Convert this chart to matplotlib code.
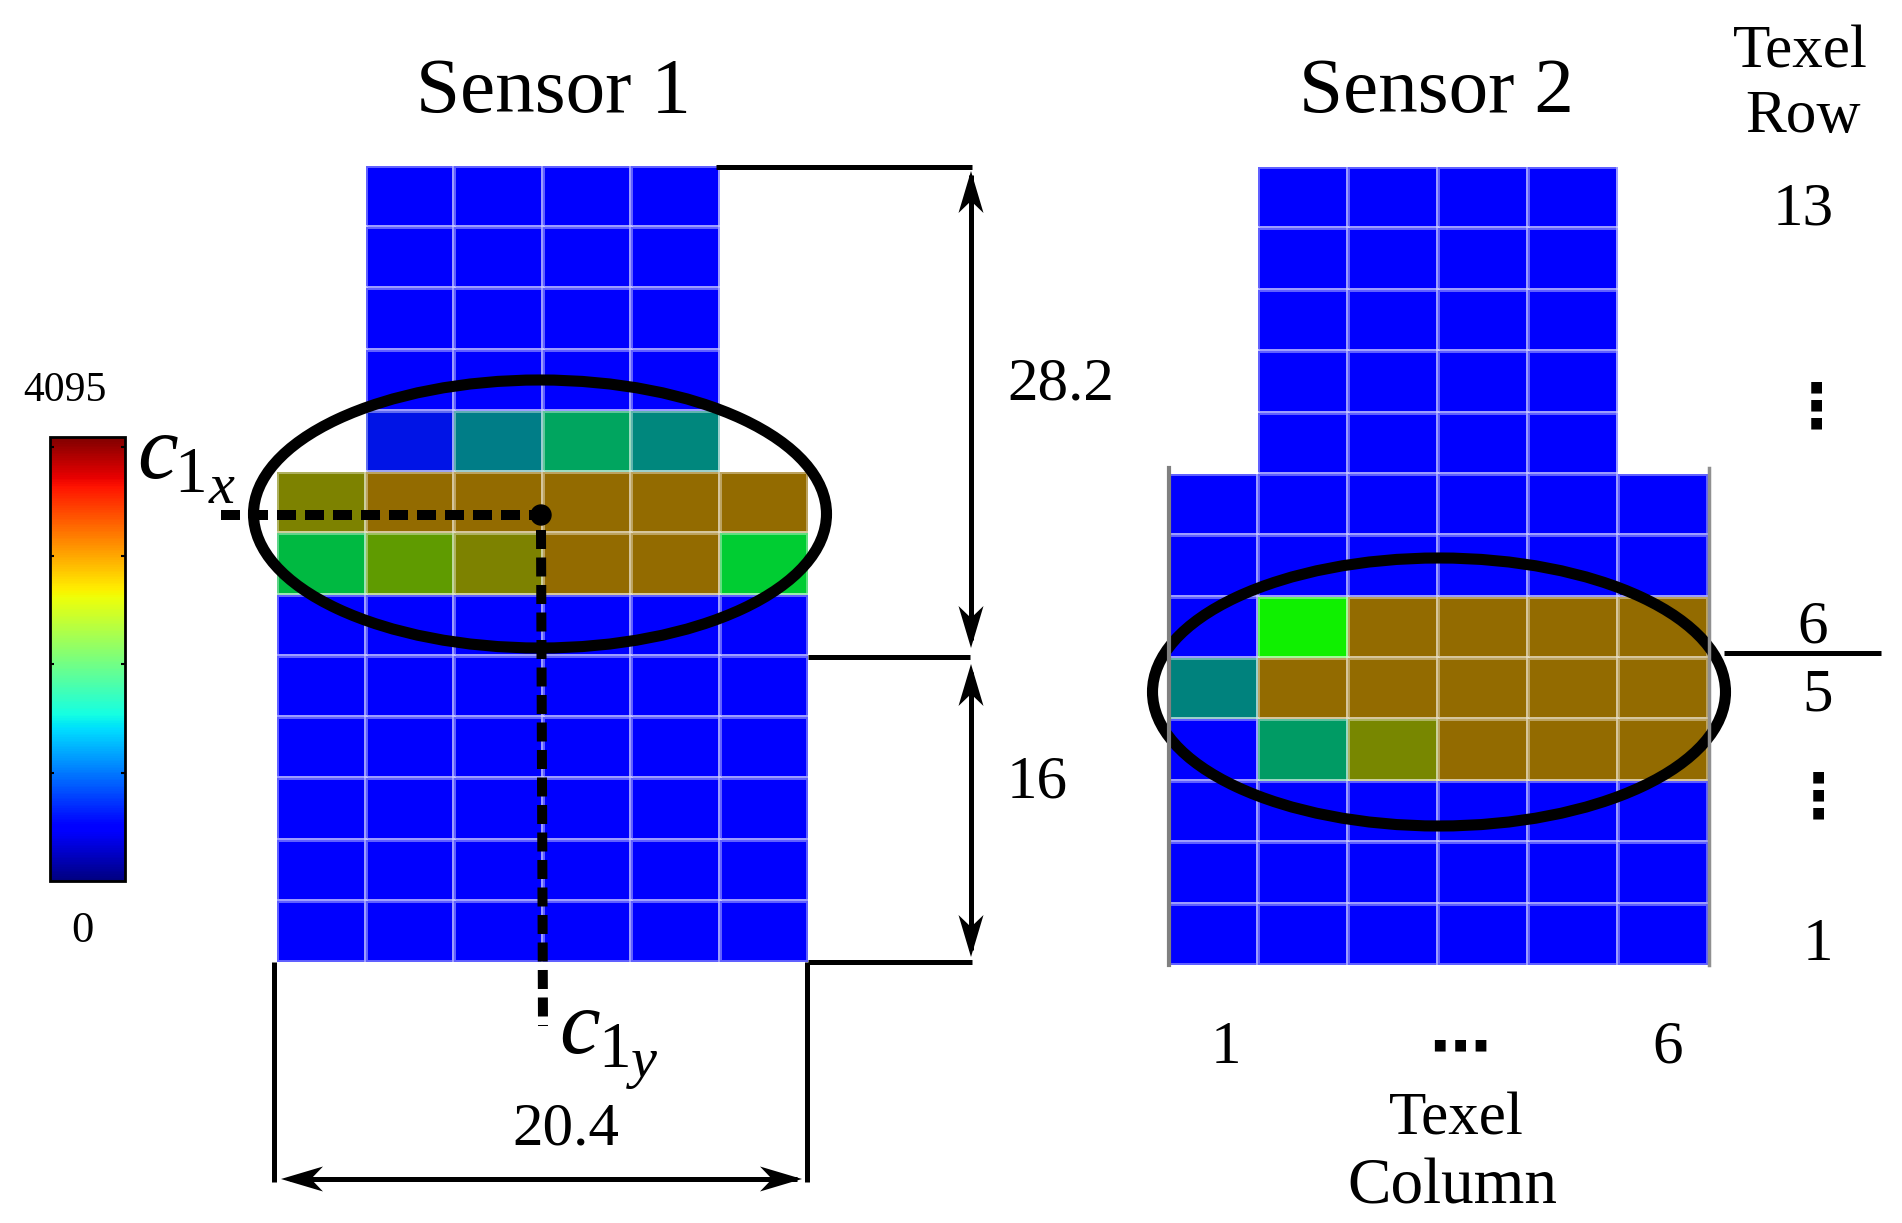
import numpy as np
import matplotlib
matplotlib.use("Agg")
import matplotlib.pyplot as plt
from matplotlib.colors import ListedColormap, Normalize
from matplotlib.cm import ScalarMappable
from matplotlib.patches import Ellipse

W, H = 1902, 1223

plt.rcParams["font.family"] = ["Liberation Serif", "DejaVu Sans"]

# cell colours seen in the two sensor maps
palette = ["#0000ff", "#0014e6", "#007d87", "#00a55f", "#00877d", "#7d8200",
           "#936b00", "#00b941", "#5f9b00", "#00cd32", "#0ff000", "#00827d",
           "#009b64", "#788700"]

n = np.nan
# index into palette, row 13 on top, row 1 at the bottom
sensor1 = [[n, 0, 0, 0, 0, n],
           [n, 0, 0, 0, 0, n],
           [n, 0, 0, 0, 0, n],
           [n, 0, 0, 0, 0, n],
           [n, 1, 2, 3, 4, n],
           [5, 6, 6, 6, 6, 6],
           [7, 8, 5, 6, 6, 9],
           [0, 0, 0, 0, 0, 0],
           [0, 0, 0, 0, 0, 0],
           [0, 0, 0, 0, 0, 0],
           [0, 0, 0, 0, 0, 0],
           [0, 0, 0, 0, 0, 0],
           [0, 0, 0, 0, 0, 0]]
sensor2 = [[n, 0, 0, 0, 0, n],
           [n, 0, 0, 0, 0, n],
           [n, 0, 0, 0, 0, n],
           [n, 0, 0, 0, 0, n],
           [n, 0, 0, 0, 0, n],
           [0, 0, 0, 0, 0, 0],
           [0, 0, 0, 0, 0, 0],
           [0, 10, 6, 6, 6, 6],
           [11, 6, 6, 6, 6, 6],
           [0, 12, 13, 6, 6, 6],
           [0, 0, 0, 0, 0, 0],
           [0, 0, 0, 0, 0, 0],
           [0, 0, 0, 0, 0, 0]]

cbar_ticks = [1000, 2000, 3000, 4000]
cbar_max = 4095


def px_axes(fig, x0, y0, x1, y1, **kw):
    return fig.add_axes([x0 / W, 1 - y1 / H, (x1 - x0) / W, (y1 - y0) / H], **kw)


def sensor_map(fig, data, rect):
    ax = px_axes(fig, *rect)
    arr = np.ma.masked_invalid(np.array(data, dtype=float))
    ax.pcolormesh(arr, cmap=ListedColormap(palette), vmin=-0.5, vmax=len(palette) - 0.5,
                  edgecolors=(1, 1, 1, 0.38), linewidth=1.6)
    ax.set_ylim(13, 0)
    ax.axis("off")
    return ax


def head(ax, tip, dx, dy):
    # concave arrow head, (dx, dy) points from the tail to the tip
    tx, ty = tip
    px, py = -dy, dx
    ax.fill([tx, tx - 42 * dx + 12.5 * px, tx - 30 * dx, tx - 42 * dx - 12.5 * px],
            [ty, ty - 42 * dy + 12.5 * py, ty - 30 * dy, ty - 42 * dy - 12.5 * py],
            color="black", lw=0)


fig = plt.figure(figsize=(W / 100, H / 100), dpi=100)

sensor_map(fig, sensor1, (277, 166, 808, 962))
sensor_map(fig, sensor2, (1168, 167, 1708, 965))

# colorbar
cax = px_axes(fig, 50, 437, 125, 881)
sm = ScalarMappable(Normalize(0, cbar_max), cmap="jet")
cb = fig.colorbar(sm, cax=cax)
cb.set_ticks(cbar_ticks)
cb.ax.tick_params(length=3, width=1.5, direction="in", left=True, right=True, labelright=False)
cb.outline.set_linewidth(2)

# overlay in pixel coordinates
ov = px_axes(fig, 0, 0, W, H)
ov.set_xlim(0, W)
ov.set_ylim(H, 0)
ov.axis("off")
ov.patch.set_alpha(0)

ov.add_patch(Ellipse((540, 514), 573, 268, fill=False, ec="black", lw=8))
ov.add_patch(Ellipse((1439, 692), 573, 268, fill=False, ec="black", lw=8))

# gray borders of sensor 2
ov.plot([1169, 1169], [468, 965], color="#808080", lw=3)
ov.plot([1709, 1709], [468, 965], color="#909090", lw=2.5)

# centroid guides
ov.plot([221, 540], [515, 515], color="black", lw=7.2, dashes=(1.9, 0.9), dash_capstyle="butt")
ov.plot([541, 543], [530, 1026], color="black", lw=7.2, dashes=(1.9, 0.85), dash_capstyle="butt")
ov.add_patch(Ellipse((541, 515), 20, 20, color="black"))

# dimension lines
for xs, ys in [([716, 972], [167, 167]), ([808, 970], [657, 657]), ([808, 972], [962, 962]),
               ([274, 274], [962, 1182]), ([807, 807], [962, 1182]), ([1724, 1881], [653, 653]),
               ([971, 971], [175, 640]), ([971, 971], [672, 950]), ([290, 797], [1179, 1179])]:
    ov.plot(xs, ys, color="black", lw=3.6, solid_capstyle="butt")
head(ov, (971, 171), 0, -1)
head(ov, (971, 648), 0, 1)
head(ov, (971, 664), 0, -1)
head(ov, (971, 957), 0, 1)
head(ov, (281, 1179), -1, 0)
head(ov, (802, 1179), 1, 0)

# text
ov.text(553, 93, "Sensor 1", fontsize=57, ha="center", va="center")
ov.text(1436, 93, "Sensor 2", fontsize=57, ha="center", va="center")
ov.text(1800, 53, "Texel", fontsize=44, ha="center", va="center")
ov.text(1803, 117, "Row", fontsize=44, ha="center", va="center")
ov.text(1803, 210, "13", fontsize=44, ha="center", va="center")
ov.text(1813, 628, "6", fontsize=44, ha="center", va="center")
ov.text(1818, 696, "5", fontsize=44, ha="center", va="center")
ov.text(1818, 945, "1", fontsize=44, ha="center", va="center")
ov.text(1226, 1048, "1", fontsize=44, ha="center", va="center")
ov.text(1668, 1048, "6", fontsize=44, ha="center", va="center")
ov.text(1456, 1120, "Texel", fontsize=44, ha="center", va="center")
ov.text(1452, 1188, "Column", fontsize=47, ha="center", va="center")
ov.text(1061, 385, "28.2", fontsize=44, ha="center", va="center")
ov.text(1037, 783, "16", fontsize=44, ha="center", va="center")
ov.text(566, 1130, "20.4", fontsize=44, ha="center", va="center")
ov.text(65, 391, "4095", fontsize=30, ha="center", va="center")
ov.text(82, 931, "0", fontsize=32, ha="center", va="center")
ov.text(1816, 410, "\u22ee", fontsize=44, ha="center", va="center", family="DejaVu Sans", fontweight="bold")
ov.text(1818, 800, "\u22ee", fontsize=44, ha="center", va="center", family="DejaVu Sans", fontweight="bold")
ov.text(1460, 1050, "\u22ef", fontsize=44, ha="center", va="center", family="DejaVu Sans", fontweight="bold")

# c1x and c1y, nested subscripts set by hand so they keep their size
ov.text(158, 478, "c", fontsize=66, style="italic", ha="center", va="baseline")
ov.text(191, 492, "1", fontsize=47, ha="center", va="baseline")
ov.text(222, 503, "x", fontsize=42, style="italic", ha="center", va="baseline")
ov.text(580, 1053, "c", fontsize=66, style="italic", ha="center", va="baseline")
ov.text(615, 1067, "1", fontsize=47, ha="center", va="baseline")
ov.text(644, 1077, "y", fontsize=42, style="italic", ha="center", va="baseline")

fig.savefig("out.png", dpi=100)
